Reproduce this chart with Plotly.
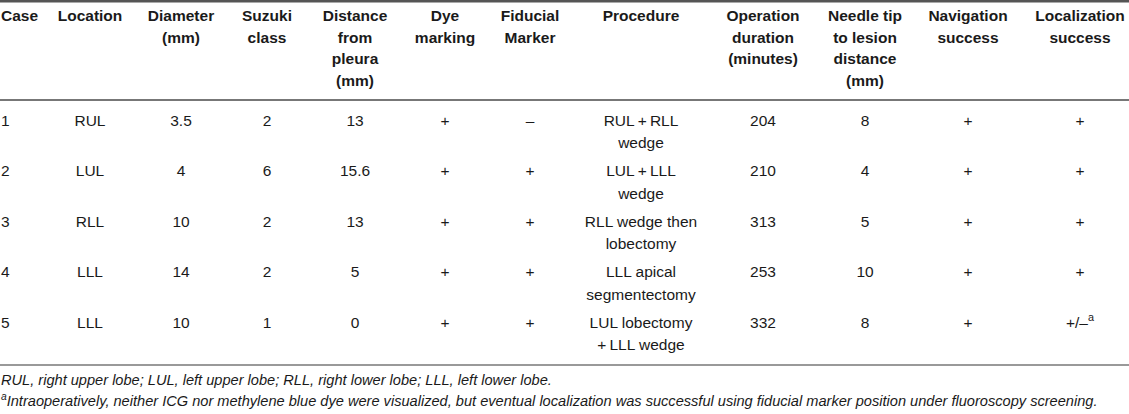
import plotly.graph_objects as go

# table content
headers = ["Case", "Location", "Diameter<br>(mm)", "Suzuki<br>class",
           "Distance<br>from<br>pleura<br>(mm)", "Dye<br>marking", "Fiducial<br>Marker",
           "Procedure", "Operation<br>duration<br>(minutes)",
           "Needle tip<br>to lesion<br>distance<br>(mm)", "Navigation<br>success",
           "Localization<br>success"]

cases = ["1", "2", "3", "4", "5"]
locations = ["RUL", "LUL", "RLL", "LLL", "LLL"]
diameters = [3.5, 4, 10, 14, 10]
suzuki_class = [2, 6, 2, 2, 1]
distance_pleura = [13, 15.6, 13, 5, 0]
dye_marking = ["+", "+", "+", "+", "+"]
fiducial_marker = ["\u2013", "+", "+", "+", "+"]
procedures = ["RUL\u2009+\u2009RLL<br>wedge", "LUL\u2009+\u2009LLL<br>wedge",
              "RLL wedge then<br>lobectomy", "LLL apical<br>segmentectomy",
              "LUL lobectomy<br>+\u2009LLL wedge"]
op_duration = [204, 210, 313, 253, 332]
needle_distance = [8, 4, 5, 10, 8]
navigation = ["+", "+", "+", "+", "+"]
localization = ["+", "+", "+", "+", "+/\u2013<sup>a</sup>"]

footnotes = [
    "RUL, right upper lobe; LUL, left upper lobe; RLL, right lower lobe; LLL, left lower lobe.",
    "<sup>a</sup>Intraoperatively, neither ICG nor methylene blue dye were visualized, but eventual "
    "localization was successful using fiducial marker position under fluoroscopy screening.",
]

columns = [cases, locations, diameters, suzuki_class, distance_pleura, dye_marking,
           fiducial_marker, procedures, op_duration, needle_distance, navigation, localization]

# layout (pixels)
W, H = 1129, 414
col_x = [1, 90, 181, 267, 355, 445, 530, 641, 763, 865, 968, 1080]
header_top, header_gap = 17, 21.7
row_top, row_pitch, line_gap = 122, 50.5, 22.5
FONT = "Liberation Sans, Arial, sans-serif"
TXT = "#1a1a1a"
SIZE = 15.5

fig = go.Figure()

for j, (x, head, vals) in enumerate(zip(col_x, headers, columns)):
    pos = "middle right" if j == 0 else "middle center"
    # header cell
    hl = head.split("<br>")
    fig.add_trace(go.Scatter(
        x=[x] * len(hl), y=[header_top + k * header_gap for k in range(len(hl))],
        text=[f"<b>{t}</b>" for t in hl], mode="text", textposition=pos,
        textfont=dict(family=FONT, size=SIZE, color=TXT),
        hoverinfo="skip", showlegend=False))
    # body cells
    xs, ys, ts = [], [], []
    for i, v in enumerate(vals):
        for k, t in enumerate(str(v).split("<br>")):
            xs.append(x)
            ys.append(row_top + i * row_pitch + k * line_gap)
            ts.append(t)
    fig.add_trace(go.Scatter(
        x=xs, y=ys, text=ts, mode="text", textposition=pos,
        textfont=dict(family=FONT, size=SIZE, color=TXT),
        hoverinfo="skip", showlegend=False))

# footnotes
fig.add_trace(go.Scatter(
    x=[1, 1], y=[381, 402], text=[f"<i>{t}</i>" for t in footnotes],
    mode="text", textposition="middle right",
    textfont=dict(family=FONT, size=14.6, color=TXT),
    hoverinfo="skip", showlegend=False))

# horizontal rules
for y, w, c in [(1.2, 2.5, "#555555"), (100, 2, "#777777"), (365, 1.6, "#777777")]:
    fig.add_shape(type="line", xref="x", yref="y", x0=0, x1=W, y0=y, y1=y,
                  line=dict(color=c, width=w))

fig.update_xaxes(range=[0, W], visible=False, fixedrange=True)
fig.update_yaxes(range=[H, 0], visible=False, fixedrange=True)
fig.update_layout(
    width=W, height=H,
    margin=dict(l=0, r=0, t=0, b=0),
    paper_bgcolor="white", plot_bgcolor="white",
    showlegend=False,
)

# drop the page's default body margin so the figure sits at the corner
fig.write_html("out.html", config={"displayModeBar": False},
               post_script="document.body.style.margin='0';")
